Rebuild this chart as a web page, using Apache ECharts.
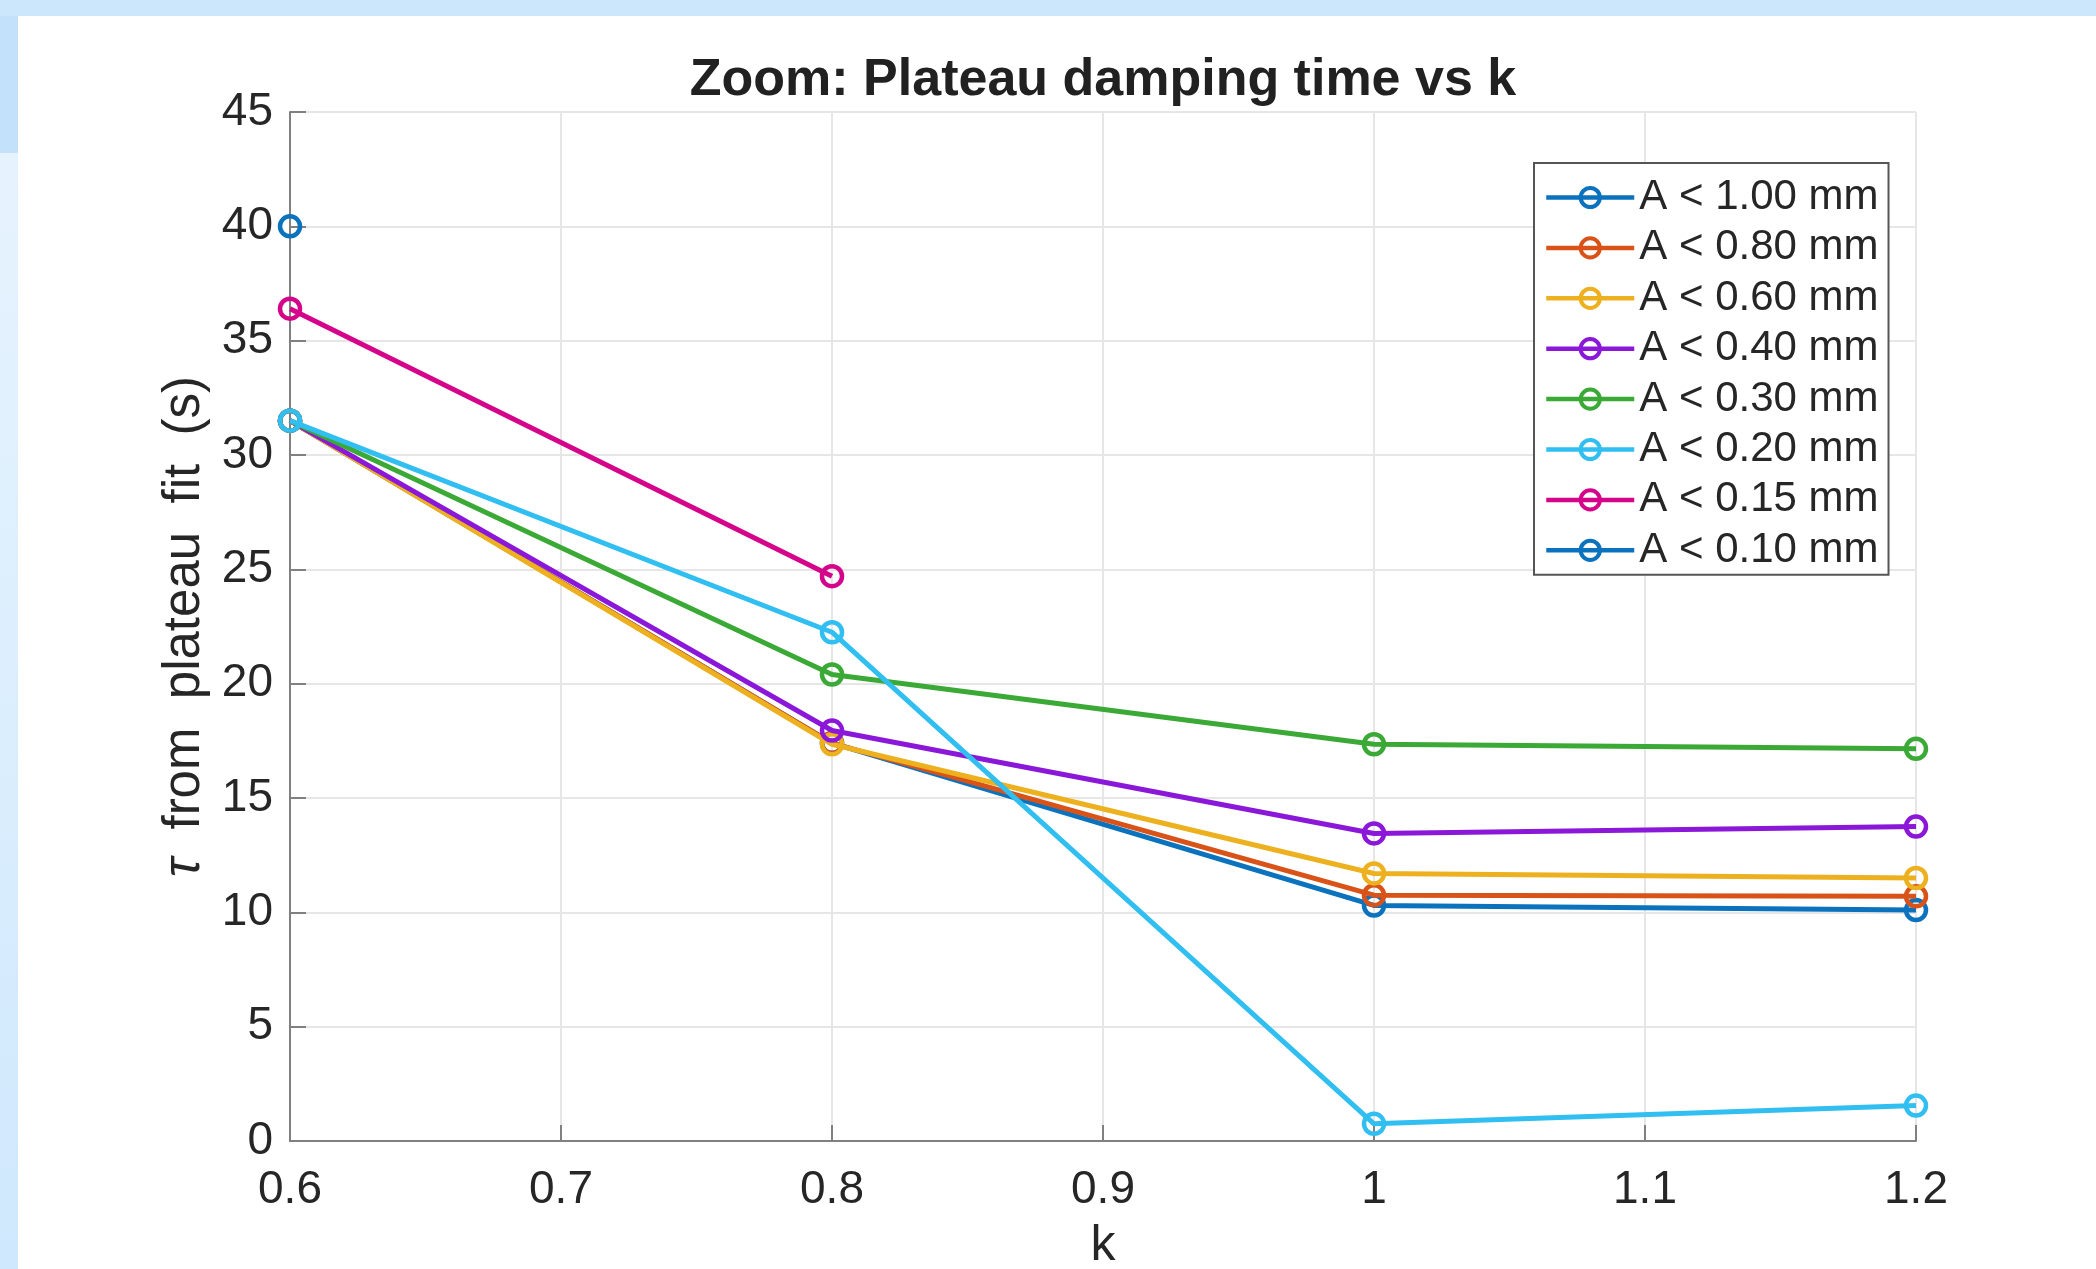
<!DOCTYPE html>
<html>
<head>
<meta charset="utf-8">
<script src="https://cdn.jsdelivr.net/npm/echarts@6/dist/echarts.min.js"></script>
<style>
  html, body { margin:0; padding:0; width:2096px; height:1269px; overflow:hidden; background:#cce6fc; }
  #leftstrip { position:absolute; left:0; top:153px; width:18px; height:1116px; background:linear-gradient(#e6f3fe, #dbeefd 50%, #cfe8fd); }
  #topleft { position:absolute; left:0; top:16px; width:18px; height:137px; background:#c4e1fb; }
  #chart { position:absolute; left:18px; top:16px; width:2078px; height:1253px; background:#ffffff; }
</style>
</head>
<body>
<div id="topleft"></div>
<div id="leftstrip"></div>
<div id="chart"></div>
<script>
// ---- data ----
const kValues = [0.6, 0.8, 1.0, 1.2];
const seriesNames = ['A < 1.00 mm','A < 0.80 mm','A < 0.60 mm','A < 0.40 mm','A < 0.30 mm','A < 0.20 mm','A < 0.15 mm','A < 0.10 mm'];
const tauA100 = [31.5, 17.4, 10.3, 10.1];
const tauA080 = [31.5, 17.4, 10.75, 10.7];
const tauA060 = [31.5, 17.35, 11.7, 11.5];
const tauA040 = [31.5, 17.95, 13.45, 13.75];
const tauA030 = [31.5, 20.4, 17.35, 17.15];
const tauA020 = [31.5, 22.25, 0.75, 1.55];
const tauA015 = [36.4, 24.7, null, null];
const tauA010 = [40.0, null, null, null];
const seriesColors = ['#0b72bd','#d95319','#edb120','#8b18d8','#3aa935','#30bff0','#d4058b','#0b72bd'];
const titleText = 'Zoom: Plateau damping time vs k';
const xLabel = 'k';
// ----------------

const allTau = [tauA100, tauA080, tauA060, tauA040, tauA030, tauA020, tauA015, tauA010];
const FONT = "'Liberation Sans', Arial, Helvetica, sans-serif";

const series = allTau.map((vals, i) => ({
  name: seriesNames[i],
  type: 'line',
  data: kValues.map((k, j) => [k, vals[j]]),
  symbol: 'circle',
  symbolSize: 20,
  showSymbol: true,
  showAllSymbol: true,
  connectNulls: false,
  lineStyle: { color: seriesColors[i], width: 5 },
  itemStyle: { color: 'transparent', borderColor: seriesColors[i], borderWidth: 4.5 },
  emphasis: { disabled: true },
  z: 2 + i
}));

const chart = echarts.init(document.getElementById('chart'), null, { renderer: 'canvas' });
chart.setOption({
  animation: false,
  backgroundColor: '#ffffff',
  title: {
    text: titleText,
    left: 1085,
    top: 39,
    padding: 0,
    textAlign: 'center',
    textStyle: { fontFamily: FONT, fontSize: 52, fontWeight: 'bold', color: '#212121' }
  },
  grid: { left: 272, top: 96, right: 180, bottom: 128, containLabel: false, outerBoundsMode: 'none' },
  legend: {
    orient: 'vertical',
    left: 1516,
    top: 147,
    padding: [13.5, 10, 3.5, 10],
    itemWidth: 88,
    itemHeight: 24,
    itemGap: 8.4,
    borderColor: '#555555',
    borderWidth: 2,
    backgroundColor: '#ffffff',
    lineStyle: { width: 4.5 },
    itemStyle: { borderWidth: 4 },
    textStyle: { fontFamily: FONT, fontSize: 42, color: '#262626', lineHeight: 42 },
    data: seriesNames
  },
  xAxis: {
    type: 'value',
    min: 0.6, max: 1.2, interval: 0.1,
    name: xLabel,
    nameLocation: 'middle',
    nameGap: 80,
    nameTextStyle: { fontFamily: FONT, fontSize: 50, color: '#262626' },
    axisLine: { show: true, onZero: false, lineStyle: { color: '#808080', width: 2 } },
    axisTick: { show: true, inside: true, length: 16, lineStyle: { color: '#808080', width: 2 } },
    axisLabel: { fontFamily: FONT, fontSize: 46, color: '#262626', margin: 26,
      formatter: v => String(Math.round(v * 10) / 10) },
    splitLine: { show: true, lineStyle: { color: '#e6e6e6', width: 2 } }
  },
  yAxis: {
    type: 'value',
    min: 0, max: 45, interval: 5,
    name: '{t|τ}  from  plateau  fit  (s)',
    nameLocation: 'middle',
    nameRotate: 90,
    nameGap: 80,
    nameTextStyle: { fontFamily: FONT, fontSize: 51, color: '#262626',
      rich: { t: { fontFamily: FONT, fontSize: 51, fontStyle: 'italic', color: '#262626' } } },
    axisLine: { show: true, lineStyle: { color: '#808080', width: 2 } },
    axisTick: { show: true, inside: true, length: 16, lineStyle: { color: '#808080', width: 2 } },
    axisLabel: { fontFamily: FONT, fontSize: 46, color: '#262626', margin: 17 },
    splitLine: { show: true, lineStyle: { color: '#e6e6e6', width: 2 } }
  },
  series: series
});
</script>
</body>
</html>
